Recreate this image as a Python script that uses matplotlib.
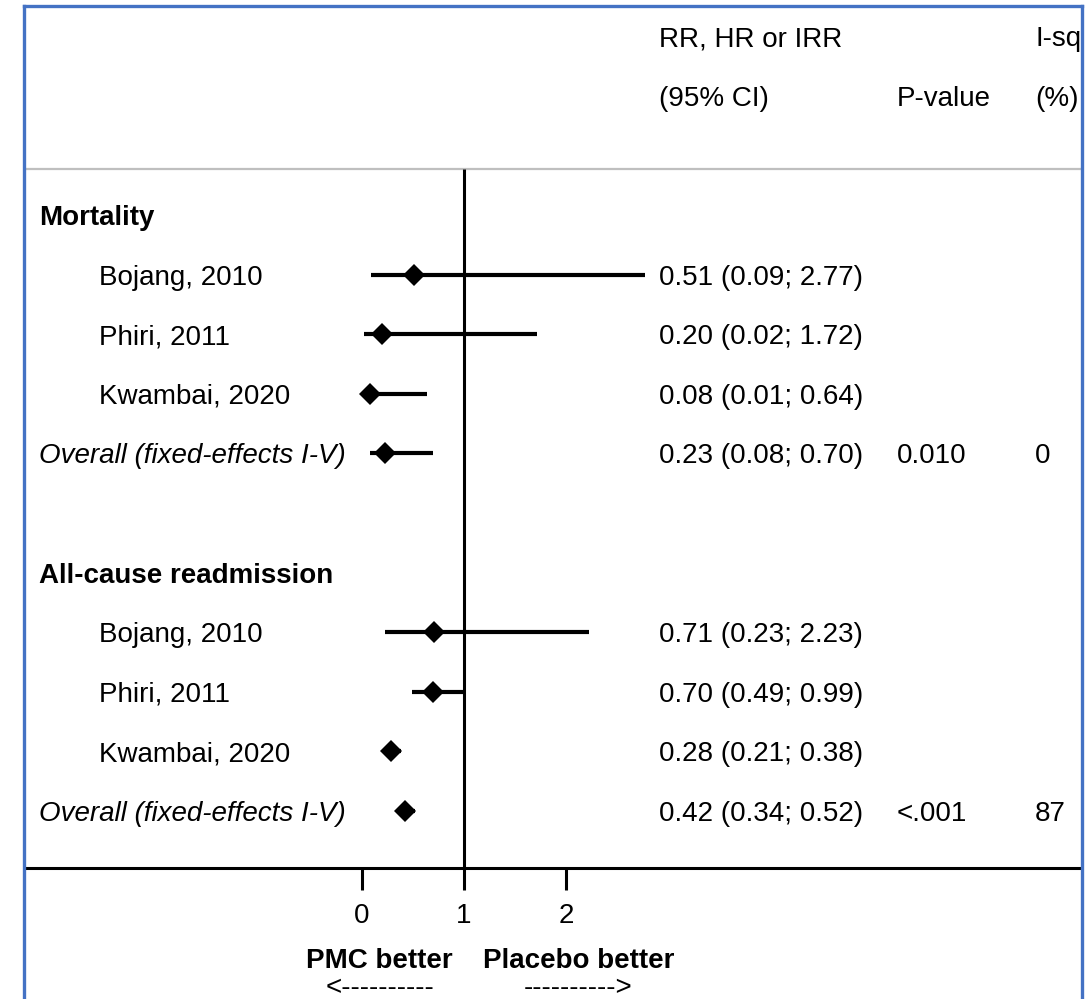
import matplotlib
matplotlib.use("Agg")
import matplotlib.pyplot as plt

plt.rcParams['font.family'] = ['Liberation Sans', 'DejaVu Sans']

# Rows of the forest plot (row index, label, kind)
row_labels = ['Mortality', 'Bojang, 2010', 'Phiri, 2011', 'Kwambai, 2020',
              'Overall (fixed-effects I-V)', '',
              'All-cause readmission', 'Bojang, 2010', 'Phiri, 2011', 'Kwambai, 2020',
              'Overall (fixed-effects I-V)']
row_kinds = ['group', 'study', 'study', 'study', 'overall', 'blank',
             'group', 'study', 'study', 'study', 'overall']

# effect estimates for rows that carry data
est_rows = [1, 2, 3, 4, 7, 8, 9, 10]
estimate = [0.51, 0.20, 0.08, 0.23, 0.71, 0.70, 0.28, 0.42]
ci_low = [0.09, 0.02, 0.01, 0.08, 0.23, 0.49, 0.21, 0.34]
ci_high = [2.77, 1.72, 0.64, 0.70, 2.23, 0.99, 0.38, 0.52]

# pooled statistics (only on overall rows)
p_rows = [4, 10]
p_values = ['0.010', '<.001']
i_squared = ['0', '87']

x_ticks = [0, 1, 2]

border_blue = '#4472C4'
fs = 20

fig = plt.figure(figsize=(10.91, 9.99), dpi=100)
W, H = 1091, 999
ax = fig.add_axes([24 / W, 0, (1082 - 24) / W, (999 - 6) / H])

px_per_unit = 102
x_min = -(362 - 24) / px_per_unit
ax.set_xlim(x_min, x_min + 1058 / px_per_unit)
row_h = 59.6
ax.set_ylim((999 - 215) / row_h, (6 - 215) / row_h)
ax.set_xticks([])
ax.set_yticks([])

for side in ['left', 'right', 'top']:
    ax.spines[side].set_color(border_blue)
    ax.spines[side].set_linewidth(2.4)
ax.spines['bottom'].set_visible(False)

# column positions (data x)
col_label_group = -3.17
col_label_study = -2.58
col_est = 2.91
col_p = 5.245
col_i2 = 6.6

header_sep = -0.77
axis_row = 10.96
dy = 0.05  # small nudge so text sits on the row centre

# header
ax.text(col_est, -3 + dy, 'RR, HR or IRR', fontsize=fs, va='center', ha='left')
ax.text(col_est, -2 + dy, '(95% CI)', fontsize=fs, va='center', ha='left')
ax.text(col_p, -2 + dy, 'P-value', fontsize=fs, va='center', ha='left')
ax.text(col_i2, -3 + dy, 'I-sq', fontsize=fs, va='center', ha='left', clip_on=True)
ax.text(col_i2, -2 + dy, '(%)', fontsize=fs, va='center', ha='left', clip_on=True)
ax.axhline(header_sep, color='#BFBFBF', lw=1.6)

# row labels
for r, (lab, kind) in enumerate(zip(row_labels, row_kinds)):
    if kind == 'group':
        ax.text(col_label_group, r + dy, lab, fontsize=fs, fontweight='bold', va='center')
    elif kind == 'study':
        ax.text(col_label_study, r + dy, lab, fontsize=fs, va='center')
    elif kind == 'overall':
        ax.text(col_label_group, r + dy, lab, fontsize=fs, style='italic', va='center')

# null line
ax.plot([1, 1], [header_sep, axis_row], color='black', lw=2.2, solid_capstyle='butt')

# CIs and point estimates
for r, e, lo, hi in zip(est_rows, estimate, ci_low, ci_high):
    ax.plot([lo, hi], [r, r], color='black', lw=3.0, solid_capstyle='butt')
    ax.plot(e, r, marker='D', color='black', markersize=11, markeredgewidth=0)
    ax.text(col_est, r + dy, f'{e:.2f} ({lo:.2f}; {hi:.2f})', fontsize=fs, va='center')

for r, p, i2 in zip(p_rows, p_values, i_squared):
    ax.text(col_p, r + dy, p, fontsize=fs, va='center')
    ax.text(col_i2, r + dy, i2, fontsize=fs, va='center')

# x axis
ax.axhline(axis_row, color='black', lw=2.2)
for t in x_ticks:
    ax.plot([t, t], [axis_row, axis_row + 0.37], color='black', lw=2.2, solid_capstyle='butt')
    ax.text(t, axis_row + 0.8, str(t), fontsize=fs, ha='center', va='center')

ax.text(0.17, 12.52, 'PMC better', fontsize=fs, fontweight='bold', ha='center', va='center')
ax.text(2.12, 12.52, 'Placebo better', fontsize=fs, fontweight='bold', ha='center', va='center')
ax.text(0.18, 12.97, '<----------', fontsize=fs, ha='center', va='center')
ax.text(2.12, 12.97, '---------->', fontsize=fs, ha='center', va='center')

fig.savefig('out.png', dpi=100)
